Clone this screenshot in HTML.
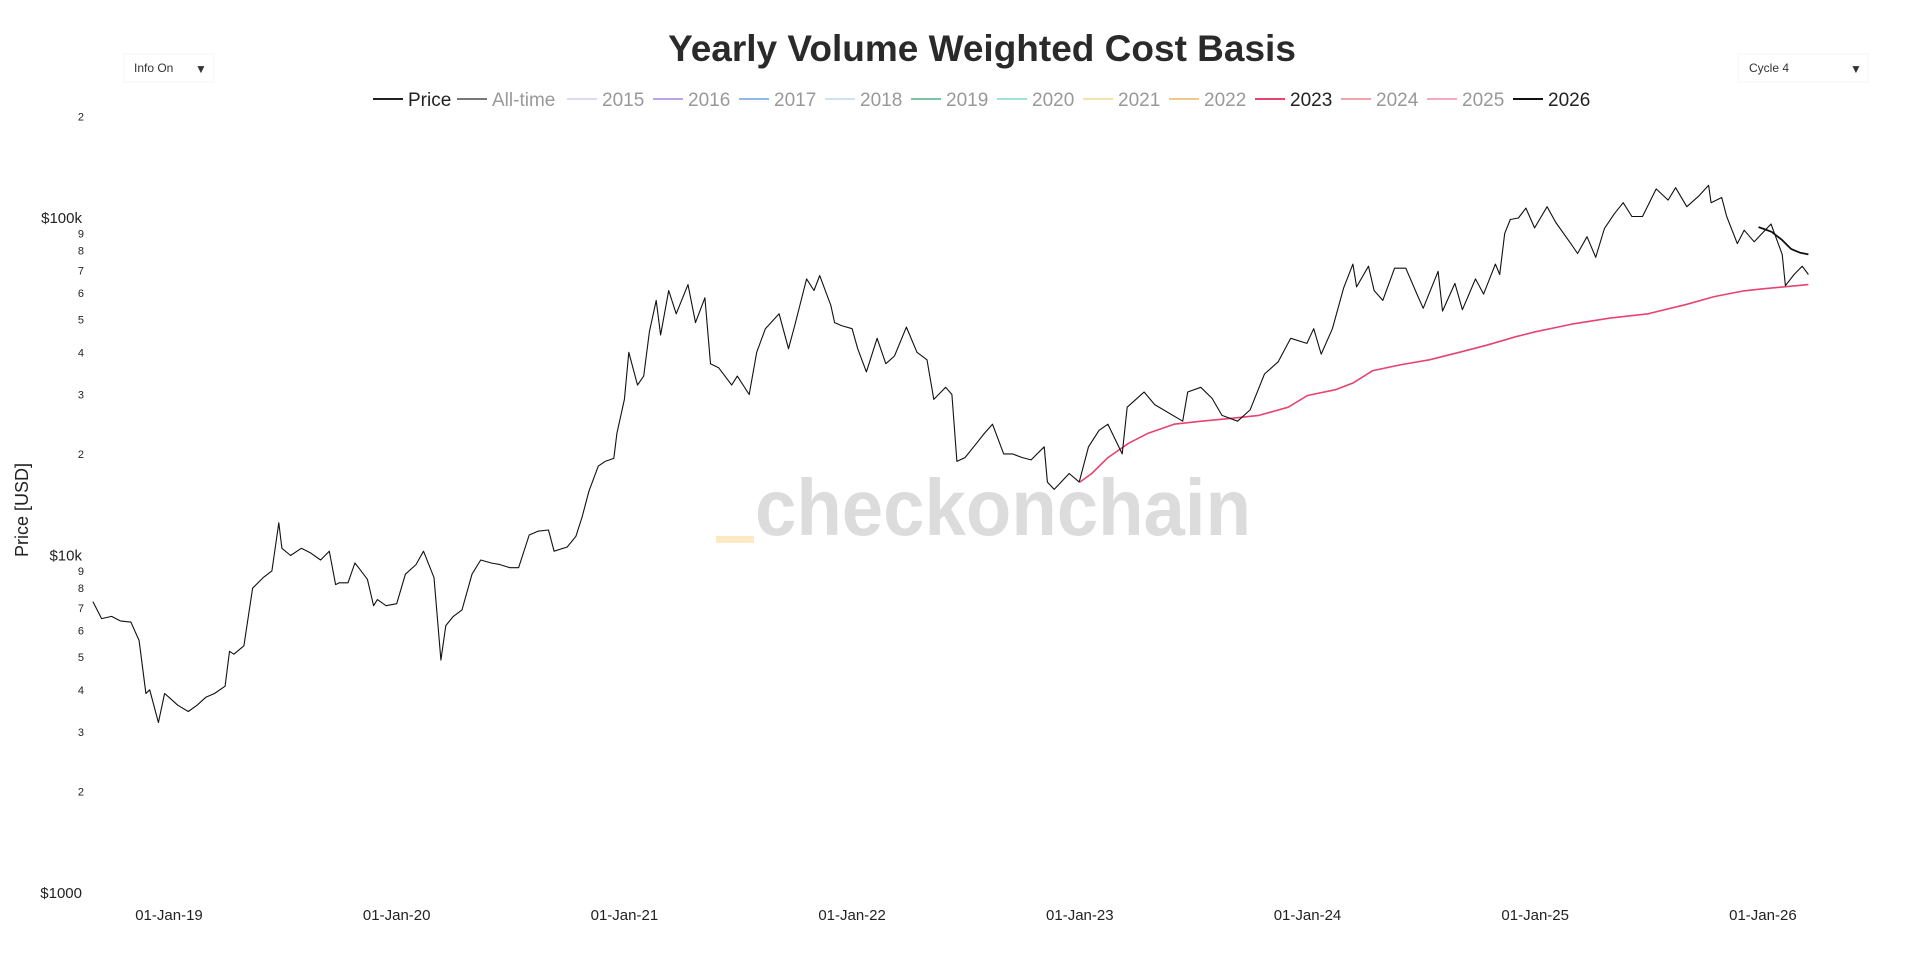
<!DOCTYPE html>
<html><head><meta charset="utf-8"><style>
html,body{margin:0;padding:0;background:#fff;}
body{width:1920px;height:963px;overflow:hidden;font-family:"Liberation Sans","DejaVu Sans",sans-serif;}
svg text{font-family:"Liberation Sans","DejaVu Sans",sans-serif;}
</style></head><body>
<svg id="chart" width="1920" height="963" viewBox="0 0 1920 963" xmlns="http://www.w3.org/2000/svg">
<text x="982" y="61" text-anchor="middle" font-size="37" font-weight="bold" fill="#2a2a2a">Yearly Volume Weighted Cost Basis</text>
<g><rect x="124" y="54" width="90" height="28" fill="#fff" stroke="#f4f4f4"/><text x="134" y="72" font-size="12" fill="#333">Info On</text><text x="195" y="73" font-size="12" fill="#333">▼</text></g>
<g><rect x="1738" y="54" width="130" height="28" fill="#fff" stroke="#f4f4f4"/><text x="1749" y="72" font-size="12" fill="#333">Cycle 4</text><text x="1850" y="73" font-size="12" fill="#333">▼</text></g>
<g><rect x="716" y="536" width="38" height="7" fill="#fde9c4"/><text x="755" y="535" font-size="80" font-weight="bold" fill="#dcdcdc" textLength="496" lengthAdjust="spacingAndGlyphs">checkonchain</text></g>
<text transform="translate(28,510) rotate(-90)" text-anchor="middle" font-size="18" fill="#222">Price [USD]</text>
<g id="legend"></g><g id="yaxis"></g><g id="xaxis"></g><g id="series"></g>
</svg>
<script>
const legendNames=["Price","All-time","2015","2016","2017","2018","2019","2020","2021","2022","2023","2024","2025","2026"];
const legendColors=["#222","#777","#ddd8f5","#b9a6e8","#8fb8ec","#cfe2f5","#7cc3a6","#9ee3d7","#f4e2a8","#f0c98a","#e8436f","#f4a3aa","#f5a9c5","#111"];
const legendActive=[1,0,0,0,0,0,0,0,0,0,1,0,0,1];
const yMajor=[1000,10000,100000];const yMajorLabels=["$1000","$10k","$100k"];
const yMinor=[2,3,4,5,6,7,8,9];
const xTicks=["2019-01-01","2020-01-01","2021-01-01","2022-01-01","2023-01-01","2024-01-01","2025-01-01","2026-01-01"];
const xTickLabels=["01-Jan-19","01-Jan-20","01-Jan-21","01-Jan-22","01-Jan-23","01-Jan-24","01-Jan-25","01-Jan-26"];
const priceDates=["2018-09-01","2018-09-15","2018-10-01","2018-10-15","2018-11-01","2018-11-14","2018-11-25","2018-12-01","2018-12-15","2018-12-25","2019-01-01","2019-01-15","2019-02-01","2019-02-15","2019-03-01","2019-03-15","2019-04-01","2019-04-08","2019-04-15","2019-05-01","2019-05-15","2019-06-01","2019-06-15","2019-06-26","2019-07-01","2019-07-15","2019-08-01","2019-08-15","2019-09-01","2019-09-15","2019-09-25","2019-10-01","2019-10-15","2019-10-26","2019-11-01","2019-11-15","2019-11-25","2019-12-01","2019-12-15","2020-01-01","2020-01-15","2020-02-01","2020-02-13","2020-03-01","2020-03-12","2020-03-20","2020-04-01","2020-04-15","2020-05-01","2020-05-15","2020-06-01","2020-06-15","2020-07-01","2020-07-15","2020-08-01","2020-08-15","2020-09-01","2020-09-10","2020-10-01","2020-10-15","2020-10-25","2020-11-05","2020-11-20","2020-12-01","2020-12-15","2020-12-20","2021-01-01","2021-01-08","2021-01-22","2021-02-01","2021-02-10","2021-02-21","2021-02-28","2021-03-13","2021-03-25","2021-04-13","2021-04-25","2021-05-10","2021-05-19","2021-06-01","2021-06-22","2021-07-01","2021-07-20","2021-08-01","2021-08-15","2021-09-06","2021-09-21","2021-10-01","2021-10-20","2021-11-01","2021-11-10","2021-11-28","2021-12-04","2021-12-15","2022-01-01","2022-01-10","2022-01-24","2022-02-10","2022-02-24","2022-03-10","2022-03-29","2022-04-15","2022-05-01","2022-05-12","2022-05-31","2022-06-10","2022-06-18","2022-07-01","2022-07-15","2022-08-01","2022-08-14","2022-09-01","2022-09-15","2022-10-01","2022-10-15","2022-11-05","2022-11-10","2022-11-21","2022-12-15","2022-12-31","2023-01-15","2023-02-01","2023-02-15","2023-03-10","2023-03-18","2023-04-14","2023-05-01","2023-06-15","2023-06-23","2023-07-14","2023-08-01","2023-08-17","2023-09-11","2023-10-01","2023-10-24","2023-11-15","2023-12-05","2023-12-31","2024-01-11","2024-01-23","2024-02-10","2024-02-28","2024-03-14","2024-03-20","2024-04-08","2024-04-17","2024-05-01","2024-05-20","2024-06-07","2024-06-24","2024-07-05","2024-07-29","2024-08-05","2024-08-25","2024-09-06","2024-09-27","2024-10-10","2024-10-29","2024-11-05","2024-11-13","2024-11-22","2024-12-05","2024-12-17","2024-12-31","2025-01-20","2025-02-03","2025-02-27","2025-03-10","2025-03-25","2025-04-08","2025-04-22","2025-05-08","2025-05-22","2025-06-05","2025-06-22","2025-07-14","2025-08-02","2025-08-14","2025-09-01","2025-09-20","2025-10-06","2025-10-10","2025-10-27","2025-11-04","2025-11-21","2025-12-02","2025-12-18","2026-01-14","2026-02-01","2026-02-06","2026-02-20","2026-03-05","2026-03-15"];
const priceValues=[7300,6500,6600,6400,6350,5600,3900,4000,3200,3900,3800,3600,3450,3600,3800,3900,4100,5200,5100,5400,8000,8600,9000,12500,10500,10000,10500,10200,9700,10300,8200,8300,8300,9500,9200,8500,7100,7400,7100,7200,8800,9400,10300,8600,4900,6200,6600,6900,8800,9700,9500,9400,9200,9200,11500,11800,11900,10300,10600,11400,13000,15500,18400,19000,19400,23000,29000,40000,32000,34000,46000,57000,45000,61000,52000,63500,49000,58000,37000,36000,32000,34000,30000,40000,47000,52000,41000,48000,66000,61000,67500,55000,49000,48000,47000,41000,35000,44000,37000,39000,47500,40000,38000,29000,31500,30000,19000,19500,21000,23000,24500,20000,20000,19500,19200,21000,16500,15700,17500,16500,21000,23500,24500,20000,27500,30500,28000,25000,30500,31500,29200,26000,25000,27000,34500,37500,44000,42500,47000,39500,47000,62000,73000,62500,72000,61000,57000,71000,71000,60000,54000,69500,53000,64000,53500,66000,59500,73000,68000,90000,99000,100000,107000,93500,108000,97000,84000,78500,88000,76500,93000,103000,111000,101000,101000,122000,113000,123000,108000,116000,125000,111000,115000,101000,84000,92000,85000,96000,78000,63000,68000,72000,68000];
const cb2023Dates=["2023-01-01","2023-01-20","2023-02-15","2023-03-20","2023-04-20","2023-06-01","2023-07-15","2023-09-01","2023-10-15","2023-12-01","2024-01-01","2024-02-15","2024-03-15","2024-04-15","2024-06-01","2024-07-15","2024-09-01","2024-10-15","2024-12-01","2025-01-01","2025-03-01","2025-05-01","2025-07-01","2025-09-01","2025-10-15","2025-12-01","2026-01-01","2026-03-15"];
const cb2023Values=[16500,17500,19500,21500,23000,24500,25000,25500,26000,27500,29800,31000,32500,35300,36800,38000,40000,42000,44500,46000,48500,50500,52000,55500,58500,60800,61700,63500];
const cb2026Dates=["2025-12-25","2026-01-01","2026-01-15","2026-02-01","2026-02-15","2026-03-01","2026-03-15"];
const cb2026Values=[94000,93000,91000,86000,81000,79000,78000];

const NS="http://www.w3.org/2000/svg";
function yr(s){const d=new Date(s+"T00:00:00Z");const y=d.getUTCFullYear();return y+(d-Date.UTC(y,0,1))/(Date.UTC(y+1,0,1)-Date.UTC(y,0,1));}
function X(s){return 169+(yr(s)-2019)*227.7;}
function Y(v){return 893-(Math.log10(v)-3)*337.5;}
function mk(tag,attrs,parent,txt){const e=document.createElementNS(NS,tag);for(const k in attrs)e.setAttribute(k,attrs[k]);if(txt!==undefined)e.textContent=txt;parent.appendChild(e);return e;}
const leg=document.getElementById("legend");
legendNames.forEach((n,i)=>{
  const x0= i===0?373:(i===1?457:567+(i-2)*86);
  const g=mk("g",{},leg);
  
  
  mk("line",{x1:x0,x2:x0+30,y1:99,y2:99,stroke:legendColors[i],"stroke-width":2},g);
  mk("text",{x:x0+35,y:106,"font-size":19,fill:legendActive[i]?"#222":"#999"},g,n);
});
const ya=document.getElementById("yaxis");
yMajor.forEach((v,i)=>{const t=mk("text",{x:82,y:Y(v)+5,"text-anchor":"end","font-size":15,fill:"#222"},ya,yMajorLabels[i]);
  });
[1000,10000,100000].forEach(base=>{yMinor.forEach(m=>{const v=base*m;if(Y(v)<105)return;
  const t=mk("text",{x:84,y:Y(v)+4,"text-anchor":"end","font-size":11,fill:"#222"},ya,String(m));
  });});
const xa=document.getElementById("xaxis");
xTicks.forEach((d,i)=>{const t=mk("text",{x:X(d),y:920,"text-anchor":"middle","font-size":15,fill:"#222"},xa,xTickLabels[i]);
  });
const se=document.getElementById("series");
function line(dates,vals,color,w,name){const p=dates.map((d,i)=>(i?"L":"M")+X(d).toFixed(1)+","+Y(vals[i]).toFixed(1)).join("");
  const e=mk("path",{d:p,fill:"none",stroke:color,"stroke-width":w,"stroke-linejoin":"round"},se);
  }
line(cb2023Dates,cb2023Values,"#e8436f",1.6,"cost-basis-2023-line");
line(priceDates,priceValues,"#111",1.1,"price-line");
line(cb2026Dates,cb2026Values,"#111",1.8,"cost-basis-2026-line");
</script>
</body></html>
